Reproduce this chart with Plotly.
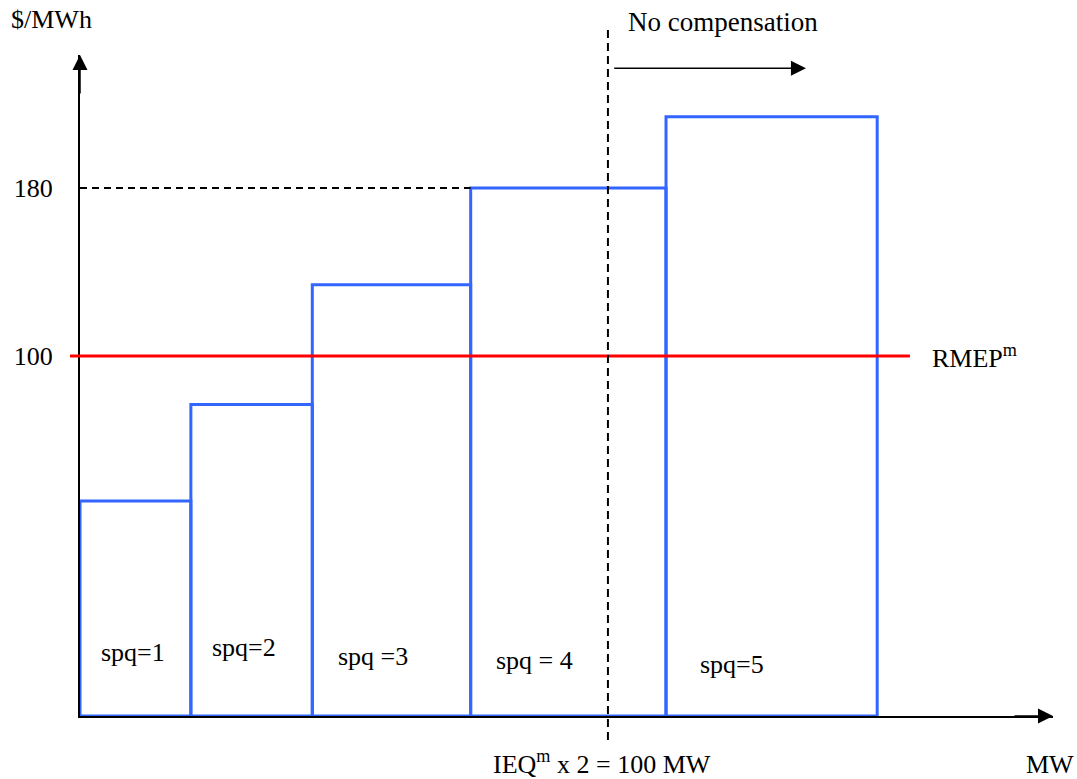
import plotly.graph_objects as go

# ---- data ----
EDGES_MW = [0, 21, 44, 74, 111, 151]          # step boundaries (MW)
PRICES = [31, 77, 134, 180, 214]              # offer prices ($/MWh)
SPQ_LABELS = ["spq=1", "spq=2", "spq =3", "spq = 4", "spq=5"]
RMEP = 100                                    # reference price
IEQ_MW = 100                                  # IEQ^m x 2
TICK_VALS = [100, 180]
TICK_TEXT = ["100", "180"]

# ---- style / layout helpers ----
BASE = -71.4
Y_TOP = 243.4
X_MAX = 184.3
FONT = "Liberation Serif"
FS = 26
BLUE = "#3366FF"

centers = [(a + b) / 2 for a, b in zip(EDGES_MW[:-1], EDGES_MW[1:])]
widths = [b - a for a, b in zip(EDGES_MW[:-1], EDGES_MW[1:])]

fig = go.Figure()
fig.add_trace(go.Bar(
    x=centers, width=widths, base=BASE, y=[p - BASE for p in PRICES],
    marker=dict(color="rgba(0,0,0,0)", line=dict(color=BLUE, width=3)),
    cliponaxis=False, hoverinfo="skip",
))

shapes = [
    # RMEP line
    dict(type="line", xref="paper", yref="y", x0=-0.0103, x1=0.853, y0=RMEP, y1=RMEP,
         line=dict(color="#FF0000", width=3), layer="above"),
    # dashed 180 guide
    dict(type="line", xref="x", yref="y", x0=0, x1=EDGES_MW[3], y0=PRICES[3], y1=PRICES[3],
         line=dict(color="black", width=2, dash="7px,5px"), layer="above"),
    # dashed IEQ vertical
    dict(type="line", xref="x", yref="paper", x0=IEQ_MW, x1=IEQ_MW, y0=-0.0363, y1=1.0454,
         line=dict(color="black", width=2, dash="8px,5px"), layer="above"),
]

label_x = [10.1, 31.0, 55.5, 86.1, 123.5]
label_y = [-41, -39, -43, -45, -47]
tf = dict(family=FONT, size=FS, color="black")
annotations = []
for t, lx, ly in zip(SPQ_LABELS, label_x, label_y):
    annotations.append(dict(x=lx, y=ly, xref="x", yref="y", text=t, showarrow=False,
                            xanchor="center", yanchor="middle", font=tf))

annotations += [
    # axis arrowheads
    dict(x=0, y=Y_TOP, xref="x", yref="y", ax=0, ay=40, text="", showarrow=True,
         arrowhead=2, arrowsize=2, arrowwidth=1.5, arrowcolor="black"),
    dict(x=X_MAX, y=BASE, xref="x", yref="y", ax=-40, ay=0, text="", showarrow=True,
         arrowhead=2, arrowsize=2, arrowwidth=1.5, arrowcolor="black"),
    # no compensation arrow
    dict(x=137.5, y=237.1, xref="x", yref="y", ax=100.9, ay=237.1, axref="x", ayref="y",
         text="", showarrow=True, arrowhead=2, arrowsize=2, arrowwidth=1.5, arrowcolor="black"),
    dict(x=121.8, y=1.050, xref="x", yref="paper", text="No compensation", showarrow=False,
         xanchor="center", yanchor="middle", font=dict(family=FONT, size=27, color="black")),
    dict(x=-0.0298, y=1.053, xref="paper", yref="paper", text="$/MWh", showarrow=False,
         xanchor="center", yanchor="middle", font=tf),
    dict(x=0.8736, y=RMEP, xref="paper", yref="y", xanchor="left", yanchor="middle",
         text="RMEP<sup>m</sup>", showarrow=False, font=tf),
    dict(x=IEQ_MW, y=-0.0696, xref="x", yref="paper", xshift=-6,
         xanchor="center", yanchor="middle",
         text="IEQ<sup>m</sup> x 2 = 100 MW", showarrow=False, font=tf),
    dict(x=0.997, y=-0.074, xref="paper", yref="paper", text="MW", showarrow=False,
         xanchor="center", yanchor="middle", font=tf),
]

fig.update_layout(
    width=1077, height=779,
    margin=dict(l=80, r=24, t=55, b=63),
    plot_bgcolor="white", paper_bgcolor="white",
    showlegend=False,
    shapes=shapes, annotations=annotations,
    xaxis=dict(range=[0, X_MAX], showline=True, linecolor="black", linewidth=2,
               showgrid=False, zeroline=False, showticklabels=False, ticks=""),
    yaxis=dict(range=[BASE, Y_TOP], showline=True, linecolor="black", linewidth=2,
               showgrid=False, zeroline=False, tickvals=TICK_VALS, ticktext=TICK_TEXT,
               ticks="", ticklabelstandoff=20, tickfont=tf),
)

# remove the page's default 8px body margin so the figure fills the window exactly
fig.write_html("out.html", config={"displayModeBar": False},
               post_script="document.body.style.margin='0';document.body.style.overflow='hidden';")
